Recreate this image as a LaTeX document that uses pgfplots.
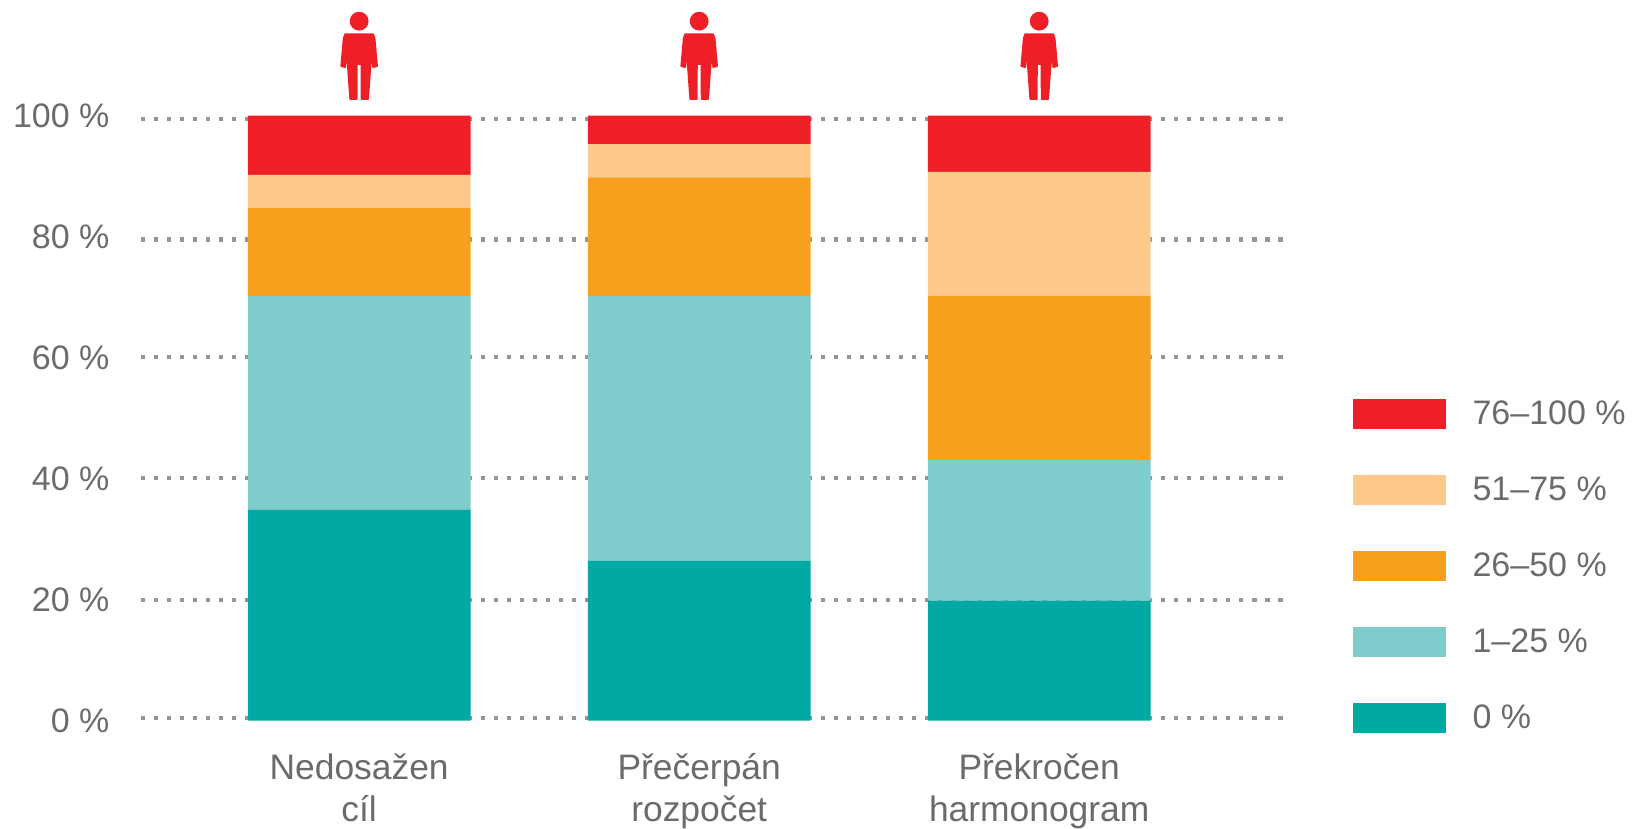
\documentclass[border=0pt]{standalone}
\usepackage{fontspec}
\setmainfont{Liberation Sans}
\usepackage{pgfplots}
\pgfplotsset{compat=1.18}
\definecolor{cA}{HTML}{00A9A2}
\definecolor{cB}{HTML}{7FCCCC}
\definecolor{cC}{HTML}{F99F1E}
\definecolor{cD}{HTML}{FDC98A}
\definecolor{cE}{HTML}{EE1F27}
\definecolor{txt}{HTML}{6A6B6E}
\definecolor{grd}{HTML}{949597}
\newcommand{\pp}[2]{\pgfpoint{#1*0.5pt}{#2*0.5pt}}
\def\pgflineto#1{\pgfpathlineto{#1}}
\pgfdeclareplotmark{person}{%
  \pgfsetlinewidth{0.8pt}\pgfsetroundjoin
  \pgfpathcircle{\pp{0}{79}}{4.3pt}%
  \pgfpathmoveto{\pp{-14}{66}}%
  \pgflineto{\pp{14}{66}}\pgflineto{\pp{15.5}{62}}\pgflineto{\pp{18}{34}}%
  \pgflineto{\pp{14}{33}}\pgflineto{\pp{12.5}{48}}\pgflineto{\pp{11.5}{36}}%
  \pgflineto{\pp{9}{1}}\pgflineto{\pp{2.4}{1}}\pgflineto{\pp{2.2}{36}}%
  \pgflineto{\pp{-2.2}{36}}\pgflineto{\pp{-2.4}{1}}\pgflineto{\pp{-9}{1}}%
  \pgflineto{\pp{-11.5}{36}}\pgflineto{\pp{-12.5}{48}}\pgflineto{\pp{-14}{33}}%
  \pgflineto{\pp{-18}{34}}\pgflineto{\pp{-15.5}{62}}\pgfpathclose
  \pgfusepathqfillstroke
}
\pgfplotsset{common/.style={
  at={(0,0)},anchor=south west,
  scale only axis,width=571.25pt,height=302.45pt,
  xmin=-0.643,xmax=2.717,ymin=0,ymax=100,clip=false}}
\begin{document}
\begin{tikzpicture}[x=1pt,y=1pt]
\path[use as bounding box] (-70.25pt,-54.25pt) rectangle ++(816pt,414.5pt);
\begin{axis}[common,axis lines=none]
\pgfplotsinvokeforeach{99.5,79.5,60.1,40.1,19.9,0.4}{
  \addplot[grd,line width=2.1pt,dash pattern=on 2.1pt off 4.44pt] coordinates {(-0.643,#1)(2.717,#1)};
}
\addplot[only marks,mark=person,color=cE] coordinates {(0,102.55)(1,102.55)(2,102.55)};
\end{axis}
\begin{axis}[common,
  axis line style={draw=none},
  ybar stacked,bar width=0.655,
  xtick={0,1,2},
  xticklabels={Nedosažen\\cíl,Přečerpán\\rozpočet,Překročen\\harmonogram},
  xticklabel style={align=center,text=txt,font=\fontsize{17.7}{21}\selectfont,yshift=-13pt},
  ytick={0,20,40,60,80,100},
  yticklabels={0 \%,20 \%,40 \%,60 \%,80 \%,100 \%},
  yticklabel style={text=txt,font=\fontsize{17}{21}\selectfont,xshift=-12pt},
  tick style={draw=none},
  major tick length=0pt,
  reverse legend,
  legend image code/.code={\fill[#1] (0pt,-7.65pt) rectangle (46.5pt,7.65pt);},
  legend cell align=left,
  legend style={draw=none,fill=none,at={(rel axis cs:1.0609,0.533)},anchor=north west,inner sep=0pt,outer sep=0pt,
    font=\fontsize{17}{21}\selectfont,text=txt,row sep=22pt,
    nodes={inner sep=0pt,outer sep=0pt,minimum height=16pt},
    /tikz/every odd column/.append style={column sep=13.5pt}},
]
\addplot[fill=cA,draw=none] coordinates {(0,34.8)(1,26.4)(2,19.8)};
\addplot[fill=cB,draw=none] coordinates {(0,35.4)(1,43.8)(2,23.3)};
\addplot[fill=cC,draw=none] coordinates {(0,14.5)(1,19.6)(2,27.1)};
\addplot[fill=cD,draw=none] coordinates {(0,5.5)(1,5.5)(2,20.5)};
\addplot[fill=cE,draw=none] coordinates {(0,9.8)(1,4.7)(2,9.3)};
\legend{0 \%,1–25 \%,26–50 \%,51–75 \%,76–100 \%}
\end{axis}
\end{tikzpicture}
\end{document}
